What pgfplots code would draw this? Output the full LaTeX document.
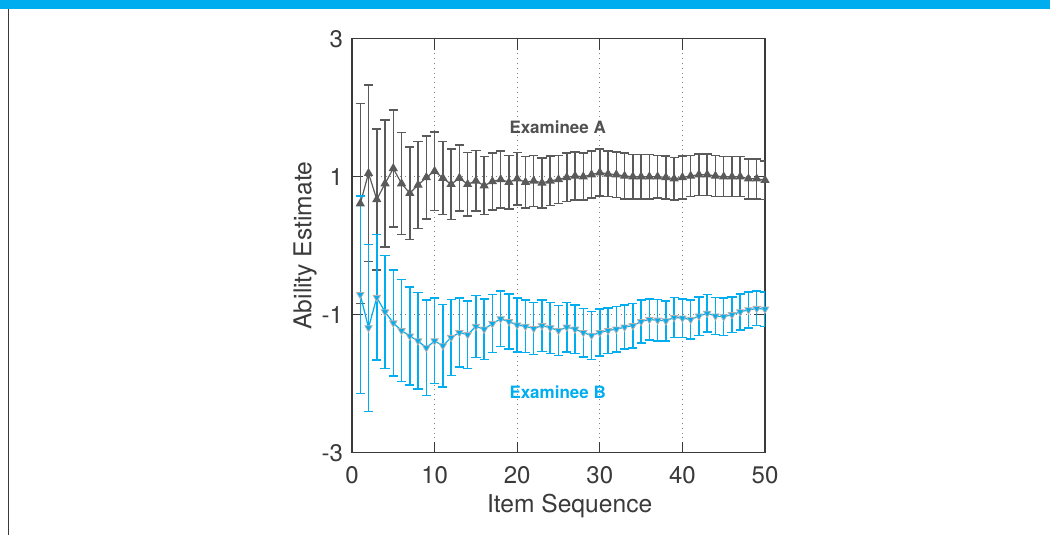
\documentclass[border=0pt]{standalone}
\usepackage{fontspec}
\setmainfont{TeX Gyre Heros}
\usepackage{pgfplots}
\usepackage{pgfplotstable}
\pgfplotsset{compat=1.18}
\definecolor{cblue}{HTML}{00AEEF}
\definecolor{agray}{HTML}{5A5A5A}
\definecolor{axgray}{HTML}{3A3A3A}

\pgfplotstableread{
x y e
1 0.61 1.45
2 1.05 1.28
3 0.67 1.02
4 0.90 0.92
5 1.12 0.85
6 0.90 0.74
7 0.76 0.67
8 0.88 0.63
9 0.99 0.60
10 1.08 0.57
11 0.98 0.53
12 0.89 0.51
13 0.98 0.48
14 0.89 0.46
15 0.94 0.44
16 0.87 0.42
17 0.93 0.41
18 0.96 0.41
19 0.92 0.39
20 0.97 0.38
21 0.92 0.37
22 0.94 0.37
23 0.91 0.36
24 0.94 0.36
25 0.96 0.35
26 0.99 0.35
27 1.01 0.35
28 1.00 0.34
29 1.03 0.34
30 1.06 0.34
31 1.04 0.33
32 1.03 0.33
33 1.01 0.33
34 1.00 0.32
35 1.00 0.32
36 1.00 0.32
37 1.00 0.31
38 0.99 0.31
39 0.97 0.31
40 0.99 0.31
41 1.01 0.30
42 1.03 0.30
43 1.03 0.30
44 1.01 0.30
45 1.00 0.29
46 1.00 0.29
47 1.00 0.29
48 0.97 0.29
49 0.97 0.29
50 0.95 0.28
}\dataA

\pgfplotstableread{
x y e
1 -0.71 1.43
2 -1.19 1.21
3 -0.75 0.91
4 -0.96 0.82
5 -1.12 0.77
6 -1.23 0.74
7 -1.31 0.71
8 -1.38 0.70
9 -1.48 0.69
10 -1.38 0.62
11 -1.45 0.60
12 -1.33 0.55
13 -1.26 0.50
14 -1.29 0.49
15 -1.17 0.45
16 -1.21 0.44
17 -1.13 0.42
18 -1.06 0.40
19 -1.10 0.40
20 -1.15 0.39
21 -1.17 0.38
22 -1.20 0.38
23 -1.16 0.37
24 -1.19 0.37
25 -1.23 0.36
26 -1.18 0.36
27 -1.21 0.35
28 -1.26 0.35
29 -1.30 0.35
30 -1.26 0.34
31 -1.23 0.33
32 -1.21 0.33
33 -1.18 0.32
34 -1.16 0.32
35 -1.10 0.31
36 -1.07 0.30
37 -1.08 0.30
38 -1.09 0.29
39 -1.04 0.29
40 -1.05 0.28
41 -1.07 0.28
42 -1.02 0.28
43 -0.98 0.27
44 -1.02 0.27
45 -1.03 0.27
46 -1.00 0.26
47 -0.96 0.26
48 -0.93 0.26
49 -0.91 0.25
50 -0.92 0.25
}\dataB

\begin{document}
\begin{tikzpicture}
\path[use as bounding box] (0,0) rectangle (525pt,267.5pt);
\fill[cblue] (0,262.8pt) rectangle (525pt,267.5pt);
\draw[axgray, line width=0.6pt] (4.3pt,0) -- (4.3pt,262.8pt);
\begin{axis}[
  at={(176pt,41.15pt)}, anchor=south west,
  scale only axis, width=206.5pt, height=207pt,
  xmin=0, xmax=50, ymin=-3, ymax=3,
  xtick={0,10,20,30,40,50},
  ytick={-3,-1,1,3}, yticklabels={-3,-1,1,3},
  /pgf/number format/assume math mode=true,
  tick align=inside, major tick length=5.5pt,
  xmajorgrids, ymajorgrids,
  grid style={dotted, gray, line width=0.5pt},
  axis line style={axgray, line width=0.7pt},
  tick style={axgray, line width=0.6pt},
  ticklabel style={font=\fontsize{12}{14}\selectfont, text=axgray},
  xticklabel style={yshift=-3.3pt},
  yticklabel style={xshift=-1pt},
  label style={font=\fontsize{12.3}{14}\selectfont, text=axgray},
  xlabel={Item Sequence}, ylabel={Ability Estimate},
  xlabel style={at={(axis description cs:0.527,-0.1287)}, anchor=center},
  ylabel style={at={(axis description cs:-0.1138,0.5)}, anchor=center},
]
\addplot[color=agray, solid, line width=0.6pt, mark=triangle*, mark size=2.1pt,
  mark options={solid},
  error bars/.cd, y dir=both, y explicit,
  error bar style={solid, draw=agray, line width=0.75pt},
  error mark options={solid, rotate=90, draw=agray, mark size=2.3pt, line width=0.75pt}]
  table[x=x, y=y, y error=e]{\dataA};
\addplot[draw=none, mark=none, forget plot,
  error bars/.cd, y dir=both, y explicit,
  error bar style={solid, draw=cblue, line width=0.75pt},
  error mark options={solid, rotate=90, draw=cblue, mark size=2.3pt, line width=0.75pt}]
  table[x=x, y=y, y error=e]{\dataB};
\addplot[color=cblue, solid, line width=0.6pt, mark=triangle*, mark size=2.1pt,
  mark options={solid, fill=cblue, draw=gray!60, line width=0.4pt, rotate=180}]
  table[x=x, y=y]{\dataB};
\node[font=\bfseries\fontsize{8.5}{10}\selectfont, text=agray!90!black] at (axis cs:24.9,1.71) {Examinee A};
\node[font=\bfseries\fontsize{8.5}{10}\selectfont, text=cblue] at (axis cs:24.9,-2.13) {Examinee B};
\end{axis}
\end{tikzpicture}
\end{document}
